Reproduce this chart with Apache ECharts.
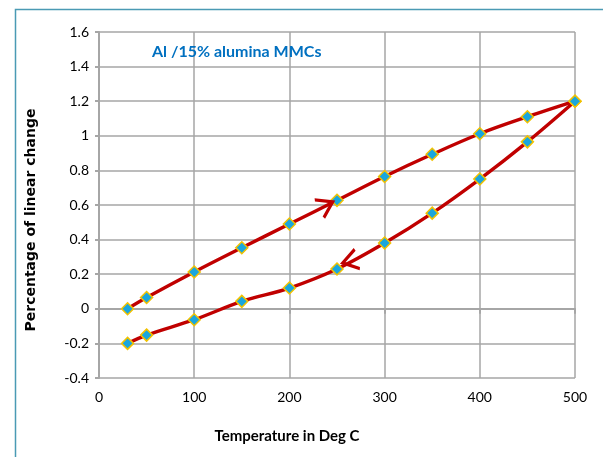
<!DOCTYPE html>
<html lang="en">
<head>
    <meta charset="UTF-8">
    <title>Linear change</title>
    <script src="https://cdn.jsdelivr.net/npm/echarts@6/dist/echarts.min.js"></script>
    <style>
        body { margin: 0; background: #fff; }
        #chart1 { width: 603px; height: 457px; }
    </style>
</head>
<body>
    <div id="chart1"></div>
    <script>
        // temperatures (deg C)
        var temps = [30, 50, 100, 150, 200, 250, 300, 350, 400, 450, 500];
        // heating curve, % linear change
        var heating = [0, 0.065, 0.213, 0.353, 0.49, 0.627, 0.765, 0.893, 1.012, 1.11, 1.2];
        // cooling curve (same temps, ascending order)
        var cooling = [-0.2, -0.152, -0.063, 0.043, 0.12, 0.23, 0.38, 0.553, 0.75, 0.965, 1.2];
        var xTicks = [0, 100, 200, 300, 400, 500];
        var yTicks = [-0.4, -0.2, 0, 0.2, 0.4, 0.6, 0.8, 1, 1.2, 1.4, 1.6];

        var font = 'Lato, "Open Sans", sans-serif';
        var gridGray = '#a6a6a6';
        var arrowPath = 'path://M0,0 L16,10 L0,20';

        var pairs = function (ys) {
            return temps.map(function (t, i) { return [t, ys[i]]; });
        };

        var lineSeries = function (name, ys, arrow) {
            return {
                name: name,
                type: 'line',
                data: pairs(ys),
                smooth: 0.35,
                symbol: 'diamond',
                symbolSize: 12,
                lineStyle: { color: '#c00000', width: 3.4 },
                itemStyle: { color: '#19a6dd', borderColor: '#f2c200', borderWidth: 1.5 },
                z: 3,
                markPoint: {
                    silent: true,
                    symbol: arrowPath,
                    symbolSize: [15, 20],
                    symbolRotate: arrow.rotate,
                    symbolOffset: arrow.offset,
                    itemStyle: { color: 'rgba(0,0,0,0)', borderColor: '#c00000', borderWidth: 3 },
                    label: { show: false },
                    data: [{ coord: [temps[5], ys[5]] }]
                }
            };
        };

        var option = {
            backgroundColor: '#fff',
            animation: false,
            textStyle: { fontFamily: font },
            graphic: [{
                type: 'rect',
                left: 13,
                top: 7,
                shape: { width: 640, height: 500 },
                style: { fill: 'none', stroke: '#4a9ab4', lineWidth: 1.5 },
                silent: true
            }],
            title: {
                text: 'Al /15% alumina MMCs',
                left: 152,
                top: 44,
                padding: 0,
                textStyle: { color: '#0070c0', fontSize: 16, fontWeight: 'bold', fontFamily: font }
            },
            grid: { left: 99, right: 28, top: 32, bottom: 79 },
            xAxis: {
                type: 'value',
                min: xTicks[0],
                max: xTicks[xTicks.length - 1],
                interval: 100,
                name: 'Temperature in Deg C',
                nameLocation: 'middle',
                nameGap: 51,
                nameTextStyle: {
                    color: '#000', fontSize: 15, fontWeight: 'bold', fontFamily: font,
                    padding: [0, 100, 0, 0]
                },
                axisLine: { lineStyle: { color: gridGray, width: 2 } },
                axisTick: { show: true, length: 5, lineStyle: { color: gridGray, width: 2 } },
                axisLabel: { color: '#000', fontSize: 14, margin: 12, fontFamily: font },
                splitLine: { show: true, lineStyle: { color: gridGray, width: 1.5 } }
            },
            yAxis: {
                type: 'value',
                min: yTicks[0],
                max: yTicks[yTicks.length - 1],
                interval: 0.2,
                name: 'Percentage of linear change',
                nameLocation: 'middle',
                nameGap: 61,
                nameTextStyle: {
                    color: '#000', fontSize: 14, fontWeight: 'bold', fontFamily: '"DejaVu Sans", sans-serif',
                    padding: [0, 30, 0, 0]
                },
                axisLine: { show: true, lineStyle: { color: gridGray, width: 2 } },
                axisTick: { show: true, length: 4, lineStyle: { color: gridGray, width: 2 } },
                axisLabel: { color: '#000', fontSize: 14, margin: 10, fontFamily: font },
                splitLine: { show: true, lineStyle: { color: gridGray, width: 1.5 } }
            },
            series: [
                lineSeries('Heating', heating, { rotate: 27, offset: [-11, 5] }),
                lineSeries('Cooling', cooling, { rotate: 195, offset: [13, -8] })
            ]
        };

        var chart1 = echarts.init(document.getElementById('chart1'));
        chart1.setOption(option);
    </script>
</body>
</html>
